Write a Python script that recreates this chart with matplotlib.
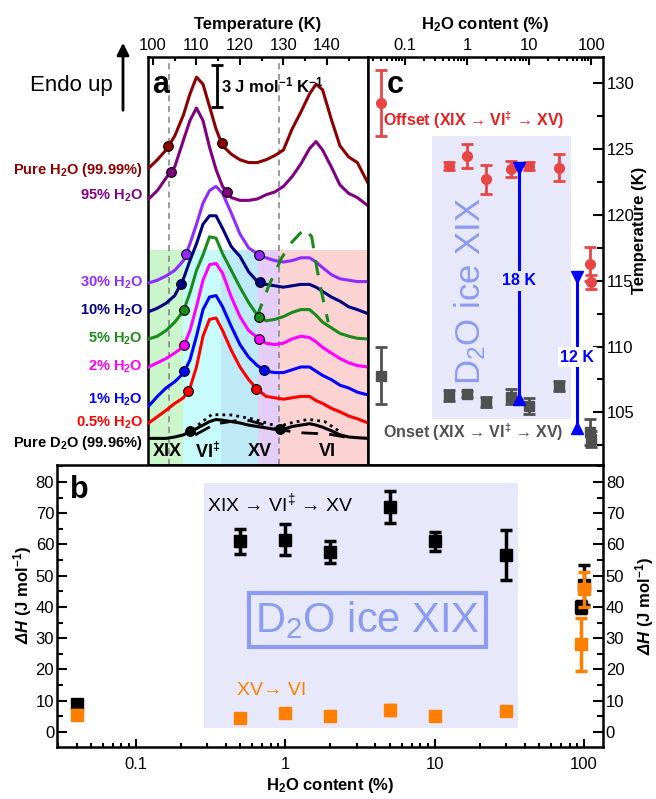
import numpy as np
import matplotlib.pyplot as plt
from matplotlib import ticker
from matplotlib.transforms import blended_transform_factory

plt.rcParams['font.family'] = ['Liberation Sans', 'DejaVu Sans']
plt.rcParams['mathtext.fontset'] = 'custom'
plt.rcParams['mathtext.default'] = 'regular'
plt.rcParams['mathtext.bf'] = 'Liberation Sans:italic:bold'
plt.rcParams['font.size'] = 12

# ---- panel a: DSC scans, stacked (J mol-1 K-1 with offsets) ----
temp = [99, 101, 103, 105, 107, 108.5, 110, 111.5, 113, 114.5, 116, 118, 120, 122,
        124, 126, 128, 130, 132, 134, 136, 137.5, 139, 141, 143, 145, 147, 149.5]
cp_h2o = [21.2, 21.8, 22.5, 23.5, 25.0, 26.5, 27.7, 27.2, 25.6, 24.0, 22.8, 22.2, 21.8, 21.6,
          21.6, 21.8, 22.1, 22.5, 24.0, 25.2, 26.5, 27.2, 26.8, 24.7, 22.8, 22.0, 21.6, 20.1]
cp_95 = [19.0, 19.6, 20.5, 21.3, 23.2, 24.6, 25.5, 24.6, 22.7, 21.1, 19.9, 19.1, 18.9, 18.9,
         19.0, 19.3, 19.5, 19.9, 20.6, 21.5, 22.6, 23.1, 22.5, 21.3, 20.0, 19.4, 19.1, 18.5]
cp_30 = [13.0, 13.2, 13.5, 13.9, 14.6, 15.8, 17.2, 18.7, 19.6, 19.9, 19.4, 18.0, 16.5, 15.5,
         15.1, 14.8, 14.6, 14.5, 14.6, 14.8, 14.8, 14.5, 14.1, 13.6, 13.3, 13.2, 13.1, 13.1]
cp_10 = [10.95, 11.2, 11.55, 12.1, 13.3, 14.6, 15.8, 17.2, 17.8, 17.8, 16.9, 15.6, 14.9, 13.8,
         13.1, 12.9, 12.8, 12.7, 12.8, 12.9, 12.9, 12.7, 12.4, 12.0, 11.7, 11.3, 11.1, 10.8]
cp_5 = [9.0, 9.2, 9.6, 10.2, 11.0, 12.3, 13.9, 15.0, 16.3, 16.2, 15.1, 13.9, 12.7, 11.6,
        10.7, 10.3, 10.4, 10.6, 10.9, 11.1, 11.1, 10.7, 10.2, 9.8, 9.4, 9.2, 9.05, 9.0]
cp_2 = [7.0, 7.3, 7.6, 8.0, 8.45, 9.6, 11.3, 13.2, 14.3, 14.4, 13.7, 12.0, 10.6, 9.6,
        9.1, 8.7, 8.6, 8.7, 9.0, 9.2, 9.1, 8.8, 8.4, 8.0, 7.6, 7.3, 7.1, 7.0]
cp_1 = [4.2, 4.9, 5.5, 5.95, 6.55, 7.5, 9.2, 11.1, 12.0, 12.1, 11.3, 9.9, 8.6, 7.7,
        7.1, 6.7, 6.6, 6.6, 6.8, 7.0, 7.0, 6.7, 6.4, 6.1, 5.7, 5.5, 5.2, 5.0]
cp_05 = [3.0, 3.45, 3.9, 4.4, 4.8, 5.5, 7.0, 9.2, 10.4, 10.5, 9.6, 8.2, 7.0, 6.1,
         5.4, 4.9, 4.8, 4.7, 4.8, 4.9, 4.9, 4.6, 4.4, 4.05, 3.8, 3.5, 3.3, 3.0]
cp_d2o = [1.9, 1.9, 1.9, 2.0, 2.15, 2.4, 2.6, 2.85, 3.1, 3.25, 3.2, 3.1, 3.0, 2.85,
          2.75, 2.65, 2.55, 2.55, 2.75, 2.85, 2.95, 2.85, 2.7, 2.45, 2.15, 2.0, 1.95, 1.9]

# extra D2O scans and the 5 % rescan
temp_d2o_dot = [110.4, 113.5, 118.1, 123.4, 128.8, 131.9, 135.7, 139.5, 143.4]
cp_d2o_dot = [2.86, 3.6, 3.57, 3.26, 2.74, 3.02, 3.26, 3.1, 2.3]
temp_d2o_dash = [109.7, 114.3, 121.1, 125.7, 129.6, 133.4, 140.3, 144.1]
cp_d2o_dash = [2.15, 2.93, 3.26, 2.86, 2.5, 2.31, 2.21, 2.0]
temp_5_dash = [123.8, 126.5, 129.6, 131.9, 134.9, 136.5, 137.6, 138.8, 140.3]
cp_5_dash = [10.5, 12.7, 14.8, 15.9, 16.9, 16.3, 14.2, 12.3, 10.2]

# onset / offset points marked on each scan
dots_T = [[103.5, 115.8], [104.1, 117.1], [107.7, 124.4], [106.4, 124.6], [107.2, 124.4],
          [107.2, 124.4], [107.2, 125.5], [108.1, 123.8], [108.5, 129.2]]
dots_cp = [[22.8, 23.0], [20.9, 19.5], [15.1, 15.0], [12.9, 13.05], [11.1, 10.6],
           [8.6, 9.0], [6.7, 6.8], [5.3, 5.45], [2.4, 2.6]]

scan_labels = ['Pure H$_2$O (99.99%)', '95% H$_2$O', '30% H$_2$O', '10% H$_2$O', '5% H$_2$O',
               '2% H$_2$O', '1% H$_2$O', '0.5% H$_2$O', 'Pure D$_2$O (99.96%)']
label_cp = [21.07, 19.21, 13.0, 11.0, 9.0, 7.0, 4.64, 3.0, 1.57]
scan_colors = ['#8b0000', '#800080', '#8f2bff', '#000080', '#1a8a1a',
               '#ff00ff', '#0000ff', '#ff0000', '#000000']

phase_edges = [98.85, 107.0, 115.6, 124.2, 129.0, 149.45]
phase_colors = ['#cbf5cb', '#c8fcfc', '#bee9f7', '#e4cdf7', '#fcd3d3']
phase_names = ['XIX', 'VI$^{‡}$', 'XV', 'VI']
phase_T = [103.3, 112.6, 124.6, 140.2]
dash_T = [103.7, 129.0]

# ---- panel c: onset/offset temperatures ----
c_x = [0.04, 0.5, 1, 2, 5, 10, 30, 95, 99.99]
offset_T = [128.5, 123.7, 124.5, 122.7, 123.5, 123.7, 123.6, 116.3, 114.9]
offset_err = [2.5, 0.3, 0.9, 1.1, 0.6, 0.3, 1.0, 1.3, 0.5]
onset_T = [107.8, 106.3, 106.4, 105.8, 106.2, 105.5, 107.0, 103.5, 103.0]
onset_err = [2.2, 0.4, 0.2, 0.4, 0.6, 0.6, 0.4, 1.0, 0.6]

# ---- panel b: transition enthalpies ----
b_x = [0.04, 0.5, 1, 2, 5, 10, 30, 95, 99.99]
dh_19 = [8.8, 61, 61.5, 57.5, 72, 61, 56.5, 40, 47]
dh_19_err = [1.2, 4, 5, 3.5, 5, 3, 8, 2, 6.5]
dh_15 = [5.5, 4.5, 6, 5, 7, 5.2, 6.6, 28, 45.6]
dh_15_err = [1.5, 1.2, 1.3, 1.3, 1.5, 1.3, 1.3, 8.5, 5.6]

lav = '#e7e8fa'
ice_blue = '#8c9cf0'
red = '#e84545'
grey = '#505050'

fig = plt.figure(figsize=(6.56, 7.99), dpi=100)
ax_a = fig.add_axes([148 / 656, 1 - 465 / 799, 220 / 656, 408 / 799])
ax_c = fig.add_axes([368 / 656, 1 - 465 / 799, 235 / 656, 408 / 799])
ax_b = fig.add_axes([57 / 656, 1 - 747 / 799, 546 / 656, 282 / 799])

for ax in (ax_a, ax_b, ax_c):
    for sp in ax.spines.values():
        sp.set_linewidth(1.8)

# panel a
ax_a.set_xlim(phase_edges[0], phase_edges[-1])
ax_a.set_ylim(0, 29.14)
for x0, x1, col in zip(phase_edges[:-1], phase_edges[1:], phase_colors):
    ax_a.fill_between([x0, x1], 0, 15.38, color=col, lw=0, zorder=0)
for t in dash_T:
    ax_a.axvline(t, color='#808080', ls=(0, (4, 3)), lw=1.1, zorder=1)

scans = [cp_h2o, cp_95, cp_30, cp_10, cp_5, cp_2, cp_1, cp_05, cp_d2o]
lab_tr = blended_transform_factory(ax_a.transAxes, ax_a.transData)
for cp, col, dt, dc, lab, ly in zip(scans, scan_colors, dots_T, dots_cp, scan_labels, label_cp):
    ax_a.plot(temp, cp, color=col, lw=2.2, zorder=3, solid_joinstyle='round')
    ax_a.plot(dt, dc, 'o', color=col, ms=7, mec='k', mew=0.8, zorder=4)
    ax_a.text(-0.025, ly, lab, color=col, fontsize=10.5, fontweight='bold',
              ha='right', va='center', transform=lab_tr, clip_on=False)
ax_a.plot(temp_d2o_dot, cp_d2o_dot, color='k', lw=2, ls=(0, (1, 1.5)), zorder=3)
ax_a.plot(temp_d2o_dash, cp_d2o_dash, color='k', lw=2, ls=(0, (6, 4)), zorder=3)
ax_a.plot(temp_5_dash, cp_5_dash, color='#1a8a1a', lw=2.2, ls=(0, (5, 4)), zorder=3)

for name, t in zip(phase_names, phase_T):
    ax_a.text(t, 0.95, name, fontsize=13, fontweight='bold', ha='center', va='center', zorder=5)

ax_a.errorbar(114.7, 27.07, yerr=1.5, fmt='none', ecolor='k', elinewidth=2,
              capsize=4, capthick=2)
ax_a.text(115.6, 27.1, '3 J mol$^{-1}$ K$^{-1}$', fontsize=12, fontweight='bold', va='center')
ax_a.text(0.018, 0.912, 'a', fontsize=22, fontweight='bold', transform=ax_a.transAxes)

ax_a.xaxis.tick_top()
ax_a.xaxis.set_label_position('top')
ax_a.set_xticks([100, 110, 120, 130, 140])
ax_a.xaxis.set_minor_locator(ticker.MultipleLocator(5))
ax_a.tick_params(axis='x', which='both', direction='in', width=1.5, pad=3, labelsize=12)
ax_a.tick_params(axis='x', which='major', length=6)
ax_a.tick_params(axis='x', which='minor', length=3)
ax_a.set_yticks([])
ax_a.set_xlabel('Temperature (K)', fontweight='bold', fontsize=12, labelpad=6)

fig.text(71 / 656, 1 - 85 / 799, 'Endo up', fontsize=16, ha='center', va='center')
ax_a.annotate('', xy=(123 / 656, 1 - 40 / 799), xytext=(123 / 656, 1 - 113 / 799),
              xycoords='figure fraction', textcoords='figure fraction',
              arrowprops=dict(arrowstyle='-|>', lw=2, color='k', mutation_scale=18),
              annotation_clip=False)

# panel c
ax_c.set_xscale('log')
ax_c.set_xlim(0.025, 155)
ax_c.set_ylim(101, 132)
ax_c.fill_between([0.27, 48], 104.5, 126, color=lav, lw=0, zorder=0)
ax_c.text(1.12, 114.2, 'D$_2$O ice XIX', rotation=90, fontsize=25, color=ice_blue,
          ha='center', va='center', zorder=1)
ax_c.errorbar(c_x, offset_T, yerr=offset_err, fmt='o', color=red, ms=7, elinewidth=2,
              capsize=4, capthick=2, zorder=3)
ax_c.errorbar(c_x, onset_T, yerr=onset_err, fmt='s', color=grey, ms=6.5, elinewidth=2,
              capsize=4, capthick=2, zorder=3)

# temperature windows
for xx, lo, hi, ty, lab, fc in [(6.9, 106.0, 123.6, 115.0, '18 K', lav),
                                (59.4, 103.8, 115.3, 109.2, '12 K', 'white')]:
    ax_c.plot([xx, xx], [lo, hi], color='#0000ff', lw=2.2, zorder=4)
    ax_c.plot(xx, hi, 'v', color='#0000ff', ms=9, zorder=4)
    ax_c.plot(xx, lo, '^', color='#0000ff', ms=9, zorder=4)
    ax_c.text(xx, ty, lab, color='#0000ff', fontsize=11.5, fontweight='bold',
              ha='center', va='center', zorder=5,
              bbox=dict(boxstyle='square,pad=0.15', fc=fc, ec='none'))

ax_c.text(0.044, 127.2, 'Offset (XIX → VI$^{‡}$ → XV)', color='#e62020', fontsize=11.5,
          fontweight='bold', va='center')
ax_c.text(0.044, 103.5, 'Onset (XIX → VI$^{‡}$ → XV)', color=grey, fontsize=11.5,
          fontweight='bold', va='center')
ax_c.text(0.08, 0.912, 'c', fontsize=22, fontweight='bold', transform=ax_c.transAxes)

fmt = ticker.FuncFormatter(lambda v, p: f'{v:g}')
ax_c.xaxis.tick_top()
ax_c.xaxis.set_label_position('top')
ax_c.set_xticks([0.1, 1, 10, 100])
ax_c.xaxis.set_major_formatter(fmt)
ax_c.xaxis.set_minor_locator(ticker.LogLocator(subs=np.arange(2, 10)))
ax_c.xaxis.set_minor_formatter(ticker.NullFormatter())
ax_c.yaxis.tick_right()
ax_c.set_yticks([105, 110, 115, 120, 125, 130])
ax_c.yaxis.set_minor_locator(ticker.MultipleLocator(2.5))
ax_c.tick_params(which='both', direction='in', width=1.5, labelsize=12)
ax_c.tick_params(axis='x', which='major', length=6, pad=3)
ax_c.tick_params(axis='x', which='minor', length=3)
ax_c.tick_params(axis='y', which='major', length=7, pad=3)
ax_c.tick_params(axis='y', which='minor', length=4)
ax_c.set_xlabel('H$_2$O content (%)', fontweight='bold', fontsize=12, labelpad=6)
ax_c.text(1.157, 0.576, 'Temperature (K)', rotation=90, fontweight='bold', fontsize=12,
          ha='center', va='center', transform=ax_c.transAxes)

# panel b
ax_b.set_xscale('log')
ax_b.set_xlim(0.0296, 134)
ax_b.set_ylim(-4.8, 85.4)
ax_b.fill_between([0.285, 36], 1.3, 79.7, color=lav, lw=0, zorder=0)
ax_b.errorbar(b_x, dh_19, yerr=dh_19_err, fmt='s', color='k', ms=8, elinewidth=2.5,
              capsize=4.5, capthick=2.5, zorder=3)
ax_b.errorbar(b_x, dh_15, yerr=dh_15_err, fmt='s', color='#ff8000', ms=8, elinewidth=2.5,
              capsize=4.5, capthick=2.5, zorder=4)
ax_b.text(0.3, 73.3, 'XIX → VI$^{‡}$ → XV', fontsize=14, ha='left', va='center')
ax_b.text(0.474, 13.4, 'XV→ VI', fontsize=14, color='#ff8000', ha='left', va='center')
ax_b.text(3.54, 35.8, 'D$_2$O ice XIX', fontsize=30, color=ice_blue, ha='center', va='center',
          bbox=dict(boxstyle='square,pad=0.15', fc='none', ec=ice_blue, lw=3))
ax_b.text(0.024, 0.883, 'b', fontsize=22, fontweight='bold', transform=ax_b.transAxes)

ax_b.set_xticks([0.1, 1, 10, 100])
ax_b.xaxis.set_major_formatter(fmt)
ax_b.xaxis.set_minor_locator(ticker.LogLocator(subs=np.arange(2, 10)))
ax_b.xaxis.set_minor_formatter(ticker.NullFormatter())
ax_b.set_yticks(range(0, 81, 10))
ax_b.yaxis.set_minor_locator(ticker.MultipleLocator(5))
ax_b.tick_params(which='both', direction='in', width=1.5, labelsize=12)
ax_b.tick_params(axis='y', which='both', left=True, right=True, labelleft=True, labelright=True, pad=2)
ax_b.tick_params(axis='y', which='major', length=7)
ax_b.tick_params(axis='y', which='minor', length=4)
ax_b.tick_params(axis='x', which='major', length=6, pad=7)
ax_b.tick_params(axis='x', which='minor', length=3)
ax_b.set_xlabel('H$_2$O content (%)', fontweight='bold', fontsize=12, labelpad=3)
dh_label = r'$\mathbf{\Delta H}$ (J mol$^{-1}$)'
ax_b.text(-0.064, 0.54, dh_label, rotation=90, fontweight='bold', fontsize=12,
          ha='center', va='center', transform=ax_b.transAxes)
ax_b.text(1.077, 0.5, dh_label, rotation=90, fontweight='bold', fontsize=12,
          ha='center', va='center', transform=ax_b.transAxes)

fig.savefig('out.png', dpi=100)
